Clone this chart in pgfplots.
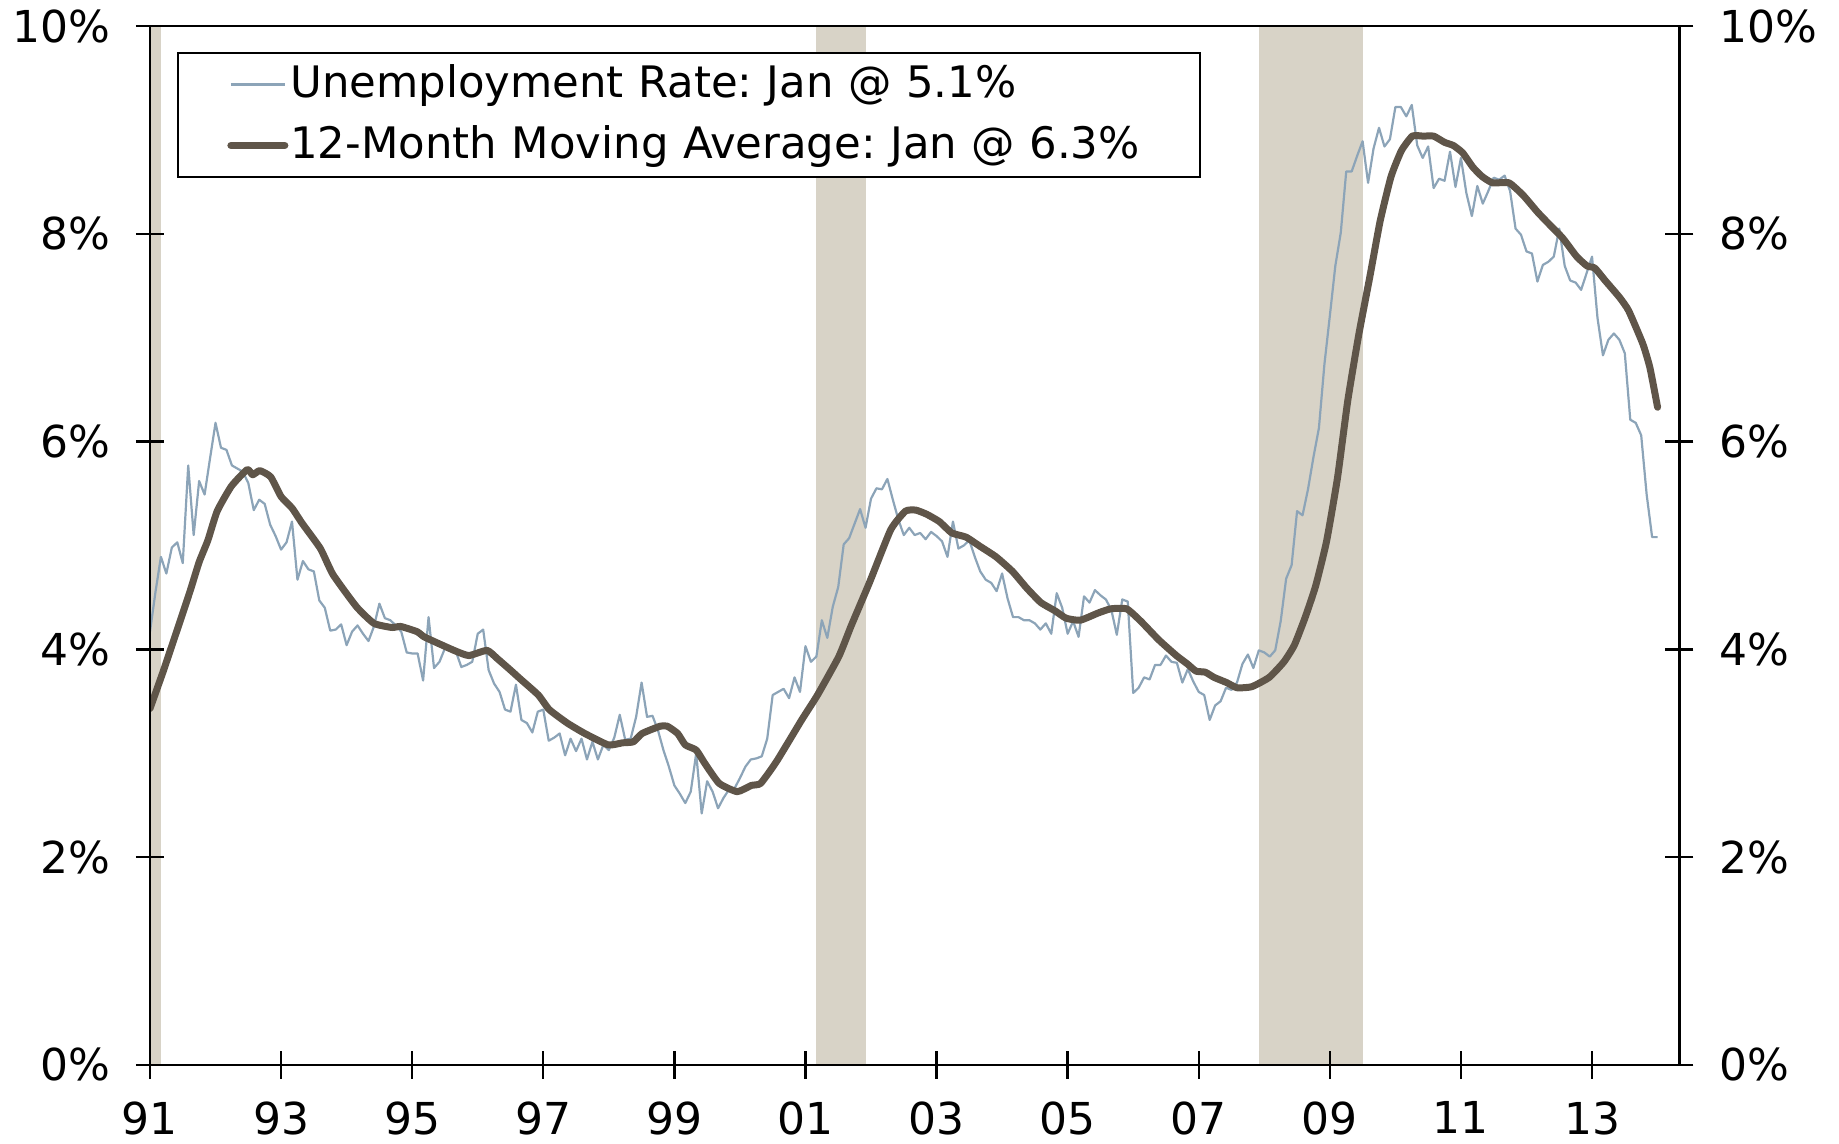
\documentclass[border=0pt]{standalone}
\usepackage{fontspec}
\setmainfont{DejaVu Sans}
\usepackage{pgfplots}
\pgfplotsset{compat=1.18}
\usepackage{pgfplotstable}
\frenchspacing

\definecolor{recband}{HTML}{D8D3C7}
\definecolor{urate}{HTML}{8CA4B8}
\definecolor{mavg}{HTML}{5F5549}

% months since Jan 1991, unemployment rate (%)
\pgfplotstableread{
m v
0 4.17
1 4.55
2 4.89
3 4.73
4 4.98
5 5.03
6 4.83
7 5.77
8 5.10
9 5.62
10 5.49
11 5.84
12 6.18
13 5.94
14 5.92
15 5.77
16 5.74
17 5.71
18 5.60
19 5.34
20 5.44
21 5.40
22 5.20
23 5.09
24 4.96
25 5.03
26 5.23
27 4.67
28 4.85
29 4.77
30 4.75
31 4.47
32 4.40
33 4.18
34 4.19
35 4.24
36 4.04
37 4.17
38 4.23
39 4.15
40 4.08
41 4.22
42 4.44
43 4.30
44 4.28
45 4.23
46 4.17
47 3.97
48 3.96
49 3.96
50 3.70
51 4.31
52 3.82
53 3.88
54 4.01
55 3.99
56 3.98
57 3.83
58 3.85
59 3.88
60 4.15
61 4.19
62 3.80
63 3.67
64 3.59
65 3.42
66 3.40
67 3.66
68 3.32
69 3.29
70 3.20
71 3.40
72 3.42
73 3.12
74 3.15
75 3.19
76 2.98
77 3.14
78 3.02
79 3.14
80 2.94
81 3.11
82 2.94
83 3.08
84 3.03
85 3.15
86 3.37
87 3.13
88 3.14
89 3.35
90 3.68
91 3.35
92 3.36
93 3.22
94 3.03
95 2.87
96 2.69
97 2.61
98 2.52
99 2.63
100 3.00
101 2.42
102 2.73
103 2.63
104 2.47
105 2.57
106 2.65
107 2.66
108 2.76
109 2.87
110 2.94
111 2.95
112 2.97
113 3.14
114 3.56
115 3.59
116 3.62
117 3.53
118 3.73
119 3.59
120 4.03
121 3.88
122 3.93
123 4.28
124 4.11
125 4.41
126 4.60
127 5.01
128 5.07
129 5.21
130 5.35
131 5.17
132 5.45
133 5.55
134 5.54
135 5.64
136 5.44
137 5.25
138 5.10
139 5.17
140 5.10
141 5.12
142 5.06
143 5.13
144 5.09
145 5.04
146 4.89
147 5.23
148 4.97
149 5.00
150 5.05
151 4.89
152 4.75
153 4.67
154 4.64
155 4.56
156 4.73
157 4.49
158 4.31
159 4.31
160 4.28
161 4.28
162 4.25
163 4.19
164 4.25
165 4.15
166 4.54
167 4.40
168 4.15
169 4.27
170 4.12
171 4.51
172 4.45
173 4.57
174 4.52
175 4.48
176 4.38
177 4.14
178 4.48
179 4.46
180 3.58
181 3.63
182 3.73
183 3.71
184 3.85
185 3.85
186 3.94
187 3.88
188 3.87
189 3.68
190 3.81
191 3.69
192 3.59
193 3.56
194 3.32
195 3.46
196 3.50
197 3.63
198 3.61
199 3.68
200 3.86
201 3.95
202 3.82
203 3.99
204 3.97
205 3.93
206 3.99
207 4.27
208 4.68
209 4.81
210 5.33
211 5.29
212 5.54
213 5.85
214 6.13
215 6.74
216 7.21
217 7.69
218 8.01
219 8.60
220 8.60
221 8.75
222 8.89
223 8.49
224 8.82
225 9.02
226 8.84
227 8.91
228 9.22
229 9.22
230 9.13
231 9.24
232 8.85
233 8.73
234 8.84
235 8.44
236 8.53
237 8.51
238 8.79
239 8.45
240 8.73
241 8.39
242 8.17
243 8.46
244 8.29
245 8.41
246 8.54
247 8.52
248 8.56
249 8.41
250 8.05
251 7.99
252 7.83
253 7.81
254 7.54
255 7.70
256 7.73
257 7.78
258 8.05
259 7.69
260 7.55
261 7.53
262 7.46
263 7.62
264 7.78
265 7.19
266 6.83
267 6.98
268 7.04
269 6.98
270 6.85
271 6.21
272 6.18
273 6.06
274 5.49
275 5.08
276 5.08
}\urdata

% 12-month moving average
\pgfplotstableread{
m v
0 3.43
2.5 3.80
5.7 4.30
7.4 4.57
9.0 4.84
10.6 5.05
12.3 5.33
14.9 5.57
17.8 5.73
18.8 5.68
20.1 5.72
22.1 5.66
24.0 5.47
26.0 5.36
27.9 5.21
31.2 4.97
33.5 4.72
37.8 4.41
41.0 4.25
44.3 4.21
45.9 4.22
48.9 4.17
50.2 4.12
53.5 4.04
56.1 3.98
58.4 3.94
61.7 3.99
63.6 3.91
66.0 3.80
67.9 3.71
71.1 3.56
73.1 3.42
76.4 3.29
79.6 3.19
83.9 3.08
86.5 3.10
88.5 3.11
90.1 3.19
93.4 3.26
94.7 3.26
96.6 3.19
98.0 3.08
100.0 3.03
101.6 2.90
104.2 2.71
107.5 2.63
110.1 2.69
111.8 2.71
114.7 2.92
119.3 3.32
122.2 3.56
126.1 3.93
128.4 4.23
131.7 4.64
135.6 5.15
138.3 5.33
140.2 5.34
142.2 5.30
144.5 5.23
146.8 5.12
149.4 5.08
152.0 4.99
154.9 4.89
157.9 4.75
160.5 4.59
163.1 4.45
165.7 4.37
167.7 4.30
170.3 4.28
173.6 4.35
175.9 4.39
178.8 4.39
181.4 4.27
184.7 4.09
187.9 3.94
189.9 3.86
191.5 3.79
193.2 3.78
194.8 3.73
197.1 3.68
199.0 3.63
201.7 3.64
204.9 3.73
207.6 3.88
209.5 4.04
211.5 4.31
213.4 4.61
215.4 5.04
217.4 5.65
219.3 6.40
221.3 7.03
223.3 7.58
225.2 8.12
227.2 8.55
229.1 8.80
231.1 8.94
233.1 8.94
235.0 8.94
237.0 8.88
238.6 8.85
240.3 8.78
242.2 8.64
243.9 8.55
245.8 8.49
248.8 8.49
251.4 8.37
254.0 8.21
256.0 8.10
258.6 7.96
261.2 7.78
263.1 7.69
264.5 7.67
266.4 7.55
269.0 7.39
270.7 7.26
273.3 6.94
274.6 6.71
276.0 6.33
}\madata

\begin{document}
\begin{tikzpicture}
\pgfplotsset{
  common/.style={
    scale only axis, width=382.4pt, height=259.75pt,
    xmin=0, xmax=280, ymin=0, ymax=10,
    ytick={0,2,4,6,8,10},
    yticklabels={0\%,2\%,4\%,6\%,8\%,10\%},
    tick align=center, major tick length=7pt,
    tick style={line width=0.6pt, black},
    axis line style={line width=0.6pt, black},
    ticklabel style={font=\fontsize{11}{13}\selectfont, black},
  }
}
\begin{axis}[common, name=ax, axis on top,
  xtick={0,24,48,72,96,120,144,168,192,216,240,264},
  xticklabels={91,93,95,97,99,01,03,05,07,09,11,13},
  xtick pos=left, ytick pos=left,
  xticklabel style={inner ysep=1pt, yshift=-4.5pt},
  yticklabel style={xshift=-3pt},
  legend cell align=left,
  legend image code/.code={\path (0pt,0pt); \draw[#1] (12.3pt,0pt) -- (25.8pt,0pt);},
  legend style={at={(rel axis cs:0.01765,0.9754)}, anchor=north west,
    draw=black, line width=0.6pt, fill=white,
    inner xsep=0pt, inner ysep=0.3pt, row sep=0pt,
    /tikz/every even column/.style={column sep=0pt},
    font=\fontsize{10.85}{13}\selectfont,
    nodes={inner xsep=0.5pt, inner ysep=0pt, minimum height=15.25pt,
      text width=227pt, align=left}},
]
\addplot[fill=recband, draw=none, forget plot] coordinates {(0,10) (2,10)} \closedcycle;
\addplot[fill=recband, draw=none, forget plot] coordinates {(122,10) (131,10)} \closedcycle;
\addplot[fill=recband, draw=none, forget plot] coordinates {(203,10) (222,10)} \closedcycle;
\addplot[urate, line width=0.55pt, line join=round] table[x=m, y=v] {\urdata};
\addlegendentry{Unemployment Rate: Jan @ 5.1\%}
\addplot[mavg, line width=1.75pt, line join=round, line cap=round, smooth, tension=0.3] table[x=m, y=v] {\madata};
\addlegendentry{12-Month Moving Average: Jan @ 6.3\%}
\end{axis}
\begin{axis}[common,
  axis x line=none, axis y line*=right,
  ytick pos=right,
  yticklabel style={xshift=3pt},
]
\addplot[draw=none] coordinates {(0,0)};
\end{axis}
\pgfresetboundingbox
\path[use as bounding box] ([shift={(-37.5pt,-19.75pt)}]ax.south west) rectangle ([shift={(39.9pt,6.5pt)}]ax.north east);
\end{tikzpicture}
\end{document}
